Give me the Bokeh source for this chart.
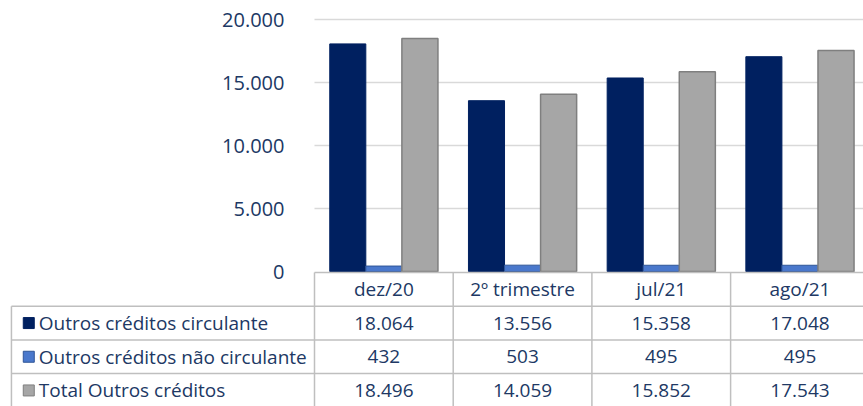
from bokeh.plotting import figure
from bokeh.models import Range1d, FixedTicker
from bokeh.core.properties import value
from bokeh.embed import file_html
from bokeh.resources import INLINE

# ---- data ----
categories = ["dez/20", "2º trimestre", "jul/21", "ago/21"]
circulante = [18064, 13556, 15358, 17048]
nao_circulante = [432, 503, 495, 495]
total = [18496, 14059, 15852, 17543]
series_names = ["Outros créditos circulante",
                "Outros créditos não circulante",
                "Total Outros créditos"]
y_ticks = [0, 5000, 10000, 15000, 20000]
y_tick_labels = ["0", "5.000", "10.000", "15.000", "20.000"]
y_max = 20000

# ---- styles / geometry ----
TEXT = "#203864"
FONT = value("Open Sans")
fills = ["#002060", "#4A78CC", "#A6A6A6"]
lines = ["#002060", "#2F5597", "#7F7F7F"]
lwidths = [1, 1, 1.5]
GRID = "#D9D9D9"
TABLE_LINE = "#BFBFBF"

W, H = 863, 406
CAT_PX = 138.7        # width of one category column in pixels
X0_PX = 314           # left edge of first category column
Y_TOP_PX, Y_ZERO_PX = 19, 271
ROW_PX = 33.7
TABLE_TOP_PX = 272
BAR_W = 0.26
LEFT = -2.185         # left edge of the row-label column (category units)
KEY_X = -2.06
LABEL_X = -1.988

x_start = -X0_PX / CAT_PX
x_end = (W - X0_PX) / CAT_PX
ppu = (Y_ZERO_PX - Y_TOP_PX) / y_max
y_start = -(H - Y_ZERO_PX) / ppu
y_end = y_max + Y_TOP_PX / ppu
t_bottom = (H - TABLE_TOP_PX) / ROW_PX
t_top = -TABLE_TOP_PX / ROW_PX

series = [circulante, nao_circulante, total]
n = len(categories)
nrows = len(series)

p = figure(width=W, height=H, x_range=Range1d(x_start, x_end),
           y_range=Range1d(y_start, y_end), x_axis_location=None,
           output_backend="svg", toolbar_location=None, min_border=0,
           outline_line_color=None)
p.extra_y_ranges = {"table": Range1d(start=t_bottom, end=t_top)}
p.grid.visible = False

# y axis placed at the left edge of the plot area
p.yaxis.fixed_location = 0
p.yaxis.ticker = FixedTicker(ticks=y_ticks)
p.yaxis.major_label_overrides = {t: l for t, l in zip(y_ticks, y_tick_labels)}
p.yaxis.axis_line_color = None
p.yaxis.major_tick_line_color = None
p.yaxis.minor_tick_line_color = None
p.yaxis.major_label_standoff = 24
p.yaxis.major_label_text_font = "Open Sans"
p.yaxis.major_label_text_font_size = "20px"
p.yaxis.major_label_text_color = TEXT

# gridlines over the plot area only
gy = [t for t in y_ticks if t > 0]
p.segment(x0=[0] * len(gy), y0=gy, x1=[n] * len(gy), y1=gy,
          line_color=GRID, line_width=1.5)

# bars
for k, vals in enumerate(series):
    xs = [i + 0.5 + (k - 1) * BAR_W for i in range(n)]
    p.vbar(x=xs, top=vals, bottom=0, width=BAR_W, fill_color=fills[k],
           line_color=lines[k], line_width=lwidths[k])

# ---- data table ----
hx0 = [0] + [LEFT] * nrows
hx1 = [n] * (nrows + 1)
hy = list(range(nrows + 1))
p.segment(x0=hx0, y0=hy, x1=hx1, y1=hy, line_color=TABLE_LINE, line_width=1.5,
          y_range_name="table")
vx = list(range(n + 1)) + [LEFT]
vy0 = [0] * (n + 1) + [1]
vy1 = [t_bottom] * (n + 2)
p.segment(x0=vx, y0=vy0, x1=vx, y1=vy1, line_color=TABLE_LINE, line_width=1.5,
          y_range_name="table")

p.text(x=[i + 0.5 for i in range(n)], y=[0.5] * n, text=categories,
       text_align="center", text_baseline="middle", text_font=FONT,
       text_font_size="19px", text_color=TEXT, y_range_name="table")
for k, vals in enumerate(series):
    labels = [f"{v:,}".replace(",", ".") for v in vals]
    p.text(x=[i + 0.5 for i in range(n)], y=[k + 1.5] * n, text=labels,
           text_align="center", text_baseline="middle", text_font=FONT,
           text_font_size="19px", text_color=TEXT, y_range_name="table")
    p.rect(x=[KEY_X], y=[k + 1.5], width=11, height=11, width_units="screen",
           height_units="screen", fill_color=fills[k], line_color=lines[k],
           line_width=1, y_range_name="table")
p.text(x=[LABEL_X] * nrows, y=[k + 1.5 for k in range(nrows)], text=series_names,
       text_align="left", text_baseline="middle", text_font=FONT,
       text_font_size="19px", text_color=TEXT, y_range_name="table")

open("out.html", "w").write(file_html(p, INLINE))
